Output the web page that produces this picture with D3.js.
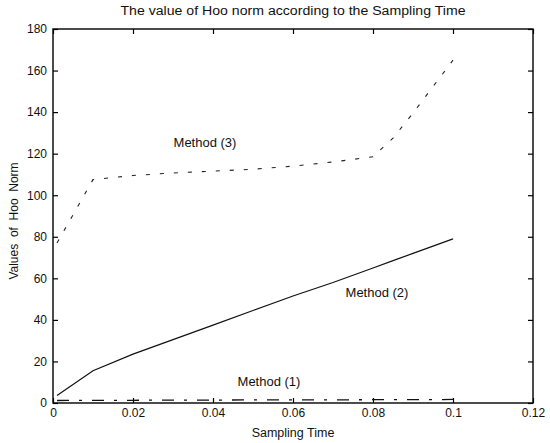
<!DOCTYPE html>
<html>
<head>
<meta charset="utf-8">
<script src="https://cdn.jsdelivr.net/npm/d3@7"></script>
<style>
  html, body { margin: 0; padding: 0; background: #fff; }
  svg { display: block; font-family: "Liberation Sans", Arial, sans-serif; }
</style>
</head>
<body>
<svg id="chart" width="550" height="443"></svg>
<script>
// ---- data ----
const samplingTime = [0.001, 0.01, 0.02, 0.03, 0.04, 0.05, 0.06, 0.07, 0.08, 0.085, 0.09, 0.1];
const method1 = [1.2, 1.3, 1.3, 1.4, 1.4, 1.5, 1.5, 1.5, 1.6, 1.6, 1.6, 1.7];
const method2 = [3.6, 15.5, 23.5, 30.5, 37.5, 44.5, 51.5, 58, 65, 68.5, 72, 79];
const method3 = [77, 107.5, 109.5, 110.7, 111.6, 112.5, 114, 116, 118.5, 127.5, 139.5, 165];
const xTicks = [0, 0.02, 0.04, 0.06, 0.08, 0.1, 0.12];
const xTickLabels = ["0", "0.02", "0.04", "0.06", "0.08", "0.1", "0.12"];
const yTicks = [0, 20, 40, 60, 80, 100, 120, 140, 160, 180];
const seriesNames = ["Method (1)", "Method (2)", "Method (3)"];
const titleText = "The value of Hoo norm according to the Sampling Time";
const xLabel = "Sampling Time";
const yLabel = "Values  of  Hoo  Norm";

// ---- layout ----
const svg = d3.select("#chart");
const L = 53, R = 533, T = 29, B = 403;
const x = d3.scaleLinear().domain([0, 0.12]).range([L, R]);
const y = d3.scaleLinear().domain([0, 180]).range([B, T]);

// box
svg.append("rect").attr("x", L).attr("y", T).attr("width", R - L).attr("height", B - T)
  .attr("fill", "none").attr("stroke", "#000").attr("stroke-width", 1.4);

function styleAxis(g) {
  g.select(".domain").remove();
  g.selectAll(".tick line").attr("stroke", "#000").attr("stroke-width", 1.2);
  g.selectAll(".tick text").attr("fill", "#111").style("font-size", "12px")
    .style("font-family", "'Liberation Sans', Arial, sans-serif");
}

// bottom axis
svg.append("g").attr("transform", `translate(0,${B})`)
  .call(d3.axisBottom(x).tickValues(xTicks).tickFormat((d, i) => xTickLabels[i])
    .tickSizeInner(-5).tickSizeOuter(0).tickPadding(5))
  .call(styleAxis);
// top ticks
svg.append("g").attr("transform", `translate(0,${T})`)
  .call(d3.axisTop(x).tickValues(xTicks).tickFormat("").tickSizeInner(-5).tickSizeOuter(0))
  .call(styleAxis);
// left axis
svg.append("g").attr("transform", `translate(${L},0)`)
  .call(d3.axisLeft(y).tickValues(yTicks).tickSizeInner(-5).tickSizeOuter(0).tickPadding(6))
  .call(styleAxis);
// right ticks
svg.append("g").attr("transform", `translate(${R},0)`)
  .call(d3.axisRight(y).tickValues(yTicks).tickFormat("").tickSizeInner(-5).tickSizeOuter(0))
  .call(styleAxis);

// series
const line = d3.line().x(d => x(d[0])).y(d => y(d[1]));
const zip = vals => samplingTime.map((t, i) => [t, vals[i]]);

svg.append("path").datum(zip(method1)).attr("d", line)
  .attr("fill", "none").attr("stroke", "#111").attr("stroke-width", 1.3)
  .attr("stroke-dasharray", "12,10,3,10");
svg.append("path").datum(zip(method2)).attr("d", line)
  .attr("fill", "none").attr("stroke", "#111").attr("stroke-width", 1.2);
svg.append("path").datum(zip(method3)).attr("d", line)
  .attr("fill", "none").attr("stroke", "#222").attr("stroke-width", 1.1)
  .attr("stroke-dasharray", "4,10");

// series labels (x position in data units, baseline in px)
const labelPos = [[0.054, 386], [0.081, 297], [0.038, 147]];
seriesNames.forEach((name, i) => {
  svg.append("text").attr("x", x(labelPos[i][0])).attr("y", labelPos[i][1])
    .attr("text-anchor", "middle").style("font-size", "13px").attr("fill", "#111")
    .text(name);
});

// title and axis labels
svg.append("text").attr("x", 293).attr("y", 15).attr("text-anchor", "middle")
  .style("font-size", "12.5px").attr("fill", "#111")
  .attr("textLength", 345).attr("lengthAdjust", "spacingAndGlyphs").text(titleText);
svg.append("text").attr("x", (L + R) / 2).attr("y", 437).attr("text-anchor", "middle")
  .style("font-size", "12.5px").attr("fill", "#111").text(xLabel);
svg.append("text").attr("transform", `translate(18,221) rotate(-90)`)
  .attr("text-anchor", "middle").style("font-size", "12px").attr("fill", "#111")
  .attr("xml:space", "preserve").style("white-space", "pre").text(yLabel);
</script>
</body>
</html>
